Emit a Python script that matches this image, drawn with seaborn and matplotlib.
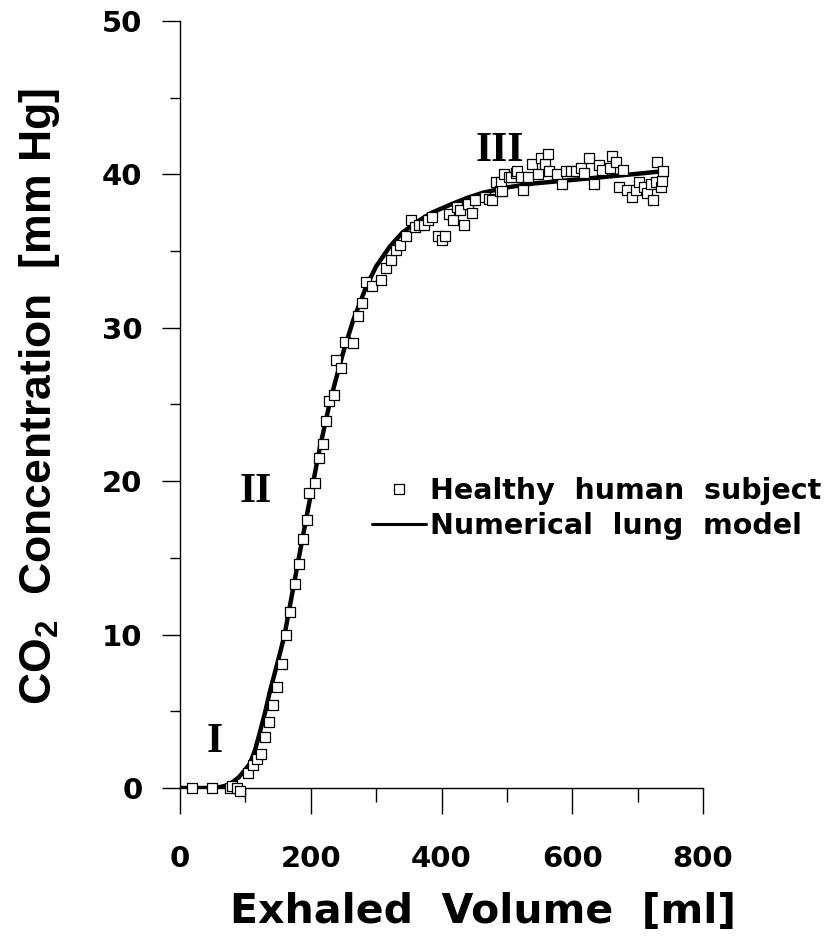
import numpy as np
import pandas as pd
import matplotlib
matplotlib.use("Agg")
import matplotlib.pyplot as plt
import seaborn as sns
from matplotlib.lines import Line2D
from matplotlib import font_manager

# ---- data ----
subject_volume = [18, 49, 76, 80, 87, 92, 104, 111, 118, 124, 130, 136, 143, 148, 156, 162, 169, 176, 182,
                  188, 194, 197, 207, 212, 218, 223, 228, 235, 239, 247, 253, 265, 273, 278, 285, 293,
                  307, 315, 322, 330, 336, 346, 353, 359, 366, 373, 380, 386, 394, 400, 406, 412, 418,
                  424, 429, 435, 440, 446, 452, 466, 473, 478, 484, 489, 491, 493, 496, 504, 507, 514,
                  515, 522, 525, 533, 539, 547, 552, 559, 563, 565, 577, 585, 591, 598, 605, 614, 618,
                  626, 634, 641, 646, 657, 661, 667, 672, 678, 684, 692, 698, 702, 710, 715, 721, 724,
                  728, 730, 736, 737, 739]
subject_co2 = [0.0, 0.0, 0.0, 0.1, 0.0, -0.2, 1.0, 1.5, 1.9, 2.2, 3.3, 4.3, 5.4, 6.6, 8.1, 10.0, 11.5, 13.3, 14.6,
               16.2, 17.5, 19.2, 19.9, 21.5, 22.4, 23.9, 25.2, 25.6, 27.9, 27.4, 29.1, 29.0, 30.8, 31.6, 33.0, 32.7,
               33.1, 33.9, 34.4, 35.1, 35.4, 36.0, 37.0, 36.6, 36.7, 36.7, 37.0, 37.2, 36.0, 35.7, 36.0, 37.4, 37.0,
               37.9, 37.7, 36.7, 38.1, 37.5, 38.3, 38.5, 38.4, 38.3, 39.5, 38.9, 39.5, 38.9, 40.0, 39.8, 39.8, 40.1,
               40.2, 39.8, 39.0, 39.8, 40.7, 40.0, 41.1, 40.7, 41.3, 40.2, 40.0, 39.4, 40.2, 40.2, 40.2, 40.4, 40.1,
               41.1, 39.4, 40.6, 40.3, 40.4, 41.2, 40.8, 39.2, 40.3, 39.0, 38.5, 39.0, 39.5, 39.2, 38.8, 39.4, 38.3,
               39.5, 40.8, 39.2, 39.6, 40.2]

model_volume = [0, 40, 60, 75, 90, 100, 107, 115, 122, 130, 137, 145, 153, 160, 170, 180, 195, 214, 230,
                249, 265, 285, 300, 321, 340, 362, 385, 412, 438, 463, 500, 539, 590, 641, 690, 737]
model_co2 = [0, 0, 0.05, 0.2, 0.7, 1.2, 1.6, 2.5, 3.6, 4.9, 6.2, 7.5, 8.8, 10.0, 12.3, 14.6, 18.0, 22.2, 25.3,
             28.3, 30.5, 32.7, 34.0, 35.3, 36.2, 36.9, 37.5, 38.0, 38.45, 38.8, 39.15, 39.4, 39.6, 39.8, 40.0, 40.2]

x_ticks = [0, 200, 400, 600, 800]
y_ticks = [0, 10, 20, 30, 40, 50]
phase_labels = ["I", "II", "III"]
phase_x = [53, 116, 489]
phase_y = [3.0, 19.3, 41.5]

subject_df = pd.DataFrame({"volume": subject_volume, "co2": subject_co2})
model_df = pd.DataFrame({"volume": model_volume, "co2": model_co2})

sns.set_style("ticks")
plt.rcParams["font.family"] = ["DejaVu Sans"]
for k in ["text.color", "axes.labelcolor", "xtick.color", "ytick.color", "axes.edgecolor"]:
    plt.rcParams[k] = "black"

# narrow font for the y label if it is really installed
installed = {f.name for f in font_manager.fontManager.ttflist}
if "Liberation Sans Narrow" in installed:
    ylab_family = ["Liberation Sans Narrow", "Liberation Sans"]
    ylab_size = 40
else:
    ylab_family = ["Liberation Sans"]
    ylab_size = 32

fig = plt.figure(figsize=(8.24, 9.47), dpi=100)
ax = fig.add_axes([180 / 824, 1 - 788 / 947, 523 / 824, 767 / 947])

sns.lineplot(data=model_df, x="volume", y="co2", ax=ax, color="black", linewidth=3.2,
             zorder=3, legend=False)
sns.scatterplot(data=subject_df, x="volume", y="co2", ax=ax, marker="s", s=42,
                facecolor="white", edgecolor="black", linewidth=0.9, zorder=4, clip_on=False,
                legend=False)

ax.set_xlim(0, 800)
ax.set_ylim(0, 50)
ax.set_xticks(x_ticks)
ax.set_yticks(y_ticks)
ax.set_xticks([100, 300, 500, 700], minor=True)
ax.set_yticks([5, 15, 25, 35, 45], minor=True)
sns.despine(ax=ax)
for s in ["left", "bottom"]:
    ax.spines[s].set_linewidth(1.0)
    ax.spines[s].set_color("black")

ax.tick_params(axis="x", which="major", direction="out", length=19, width=1.0, pad=22,
               labelsize=21, color="black", labelcolor="black")
ax.tick_params(axis="x", which="minor", direction="out", length=10, width=1.0, color="black")
ax.tick_params(axis="y", which="major", direction="out", length=13, width=1.0, pad=14,
               labelsize=21, color="black", labelcolor="black")
ax.tick_params(axis="y", which="minor", direction="out", length=7, width=1.0, color="black")
for lab in ax.get_xticklabels() + ax.get_yticklabels():
    lab.set_fontweight("bold")

ax.set_xlabel("Exhaled  Volume  [ml]", fontsize=29.5, fontweight="bold", color="black")
ax.xaxis.set_label_coords(0.58, -0.135)
ax.set_ylabel(r"CO$_\mathregular{2}$  Concentration  [mm Hg]", fontsize=ylab_size,
              family=ylab_family, fontweight="bold", color="black")
ax.yaxis.set_label_coords(-0.225, 0.51)

for t, xx, yy in zip(phase_labels, phase_x, phase_y):
    ax.text(xx, yy, t, ha="center", va="center", fontsize=30, fontweight="bold", color="black",
            family=["Liberation Serif", "DejaVu Serif"])

handles = [
    Line2D([], [], marker="s", linestyle="none", markersize=6.5, markerfacecolor="white",
           markeredgecolor="black", markeredgewidth=0.9),
    Line2D([], [], color="black", linewidth=2.2),
]
leg = ax.legend(handles, ["Healthy  human  subject", "Numerical  lung  model"],
                loc="center left", bbox_to_anchor=(0.367, 0.364), frameon=False,
                prop={"weight": "bold", "size": 20.5}, handlelength=1.9, handletextpad=0.15,
                labelspacing=0.25, borderpad=0, borderaxespad=0)
for txt in leg.get_texts():
    txt.set_color("black")

fig.savefig("out.png", dpi=100)
